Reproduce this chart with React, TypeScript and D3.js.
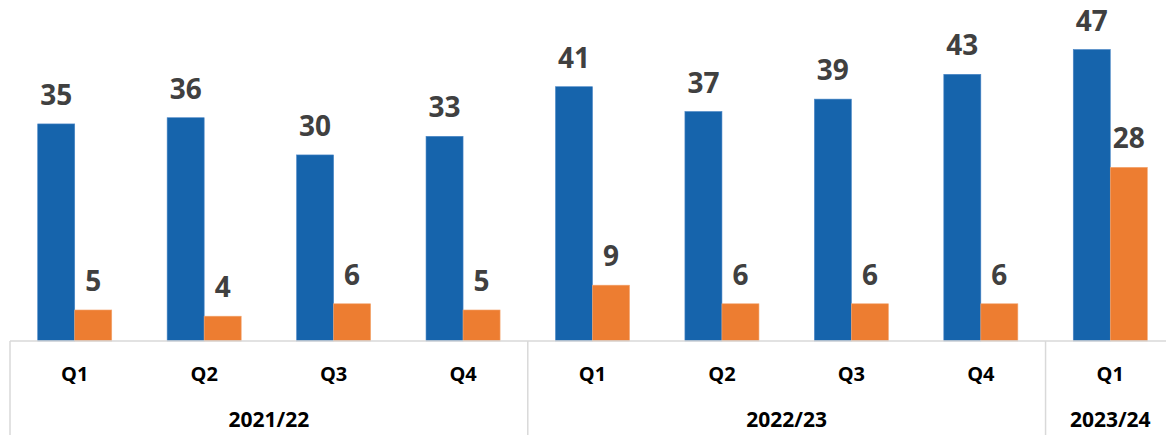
import React from "react";
import * as d3 from "d3";

const quarters = ["Q1", "Q2", "Q3", "Q4", "Q1", "Q2", "Q3", "Q4", "Q1"];
const years = ["2021/22", "2022/23", "2023/24"];
const yearSpans = [4, 4, 1];
const seriesA = [35, 36, 30, 33, 41, 37, 39, 43, 47];
const seriesB = [5, 4, 6, 5, 9, 6, 6, 6, 28];

const W = 1166;
const H = 435;
const X0 = 10;
const X1 = 1175;
const AXIS_Y = 341;
const BLUE = "#1664AC";
const ORANGE = "#ED7D31";
const FONT = "'Open Sans', 'Liberation Sans', sans-serif";

export default function App() {
  const idx = quarters.map((_, i) => String(i));
  const x = d3.scaleBand<string>().domain(idx).range([X0, X1]).paddingInner(0.428).paddingOuter(0.214);
  const sub = d3.scaleBand<string>().domain(["a", "b"]).range([0, x.bandwidth()]);
  const y = d3.scaleLinear().domain([0, 47]).range([AXIS_Y, 49.5]);
  const step = x.step();

  let acc = 0;
  const groups = years.map((yr, i) => {
    const start = X0 + acc * step;
    acc += yearSpans[i];
    const end = X0 + acc * step;
    return { yr, start, end };
  });

  return (
    <div style={{ position: "absolute", left: 0, top: 0 }}>
      <svg width={W} height={H} style={{ display: "block" }}>
        <rect width={W} height={H} fill="#fff" />
        {idx.map((k, i) => {
          const bx = x(k)!;
          return (
            <g key={k}>
              <rect x={bx + sub("a")!} y={y(seriesA[i])} width={sub.bandwidth()} height={AXIS_Y - y(seriesA[i])} fill={BLUE} stroke="#4a86c6" strokeWidth={0.6} />
              <rect x={bx + sub("b")!} y={y(seriesB[i])} width={sub.bandwidth()} height={AXIS_Y - y(seriesB[i])} fill={ORANGE} stroke="#f3a56f" strokeWidth={0.6} />
              <text x={bx + sub("a")! + sub.bandwidth() / 2} y={y(seriesA[i]) - 19} textAnchor="middle" fontFamily={FONT} fontWeight="bold" fontSize={28} fill="#404040">{seriesA[i]}</text>
              <text x={bx + sub("b")! + sub.bandwidth() / 2} y={y(seriesB[i]) - 19} textAnchor="middle" fontFamily={FONT} fontWeight="bold" fontSize={28} fill="#404040">{seriesB[i]}</text>
              <text x={bx + x.bandwidth() / 2} y={381} textAnchor="middle" fontFamily={FONT} fontWeight="bold" fontSize={20} fill="#000">{quarters[i]}</text>
            </g>
          );
        })}
        <line x1={X0} x2={W} y1={AXIS_Y} y2={AXIS_Y} stroke="#d9d9d9" strokeWidth={1.5} />
        {groups.map((g) => (
          <g key={g.yr}>
            <line x1={g.start} x2={g.start} y1={AXIS_Y} y2={H} stroke="#d9d9d9" strokeWidth={1.5} />
            <text x={(g.start + g.end) / 2} y={427} textAnchor="middle" fontFamily={FONT} fontWeight="bold" fontSize={21} fill="#000">{g.yr}</text>
          </g>
        ))}
        <line x1={groups[2].end} x2={groups[2].end} y1={AXIS_Y} y2={H} stroke="#d9d9d9" strokeWidth={1.5} />
      </svg>
    </div>
  );
}
